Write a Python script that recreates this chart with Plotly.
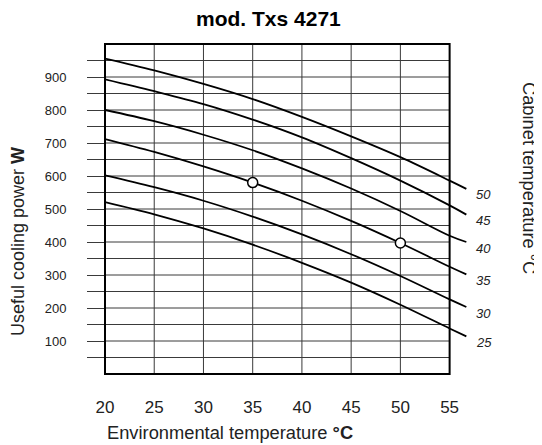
import plotly.graph_objects as go

# ---------------- data ----------------
env_temp = [20, 25, 30, 35, 40, 45, 50, 55, 56.7]
cabinet_temps = ["50", "45", "40", "35", "30", "25"]
power_c50 = [956, 920, 879, 833, 779, 720, 657, 586, 561]
power_c45 = [893, 857, 818, 771, 717, 654, 586, 511, 483]
power_c40 = [800, 766, 725, 678, 623, 562, 494, 419, 400]
power_c35 = [712, 673, 629, 580, 525, 464, 397, 325, 302]
power_c30 = [602, 566, 525, 477, 423, 363, 297, 226, 203]
power_c25 = [521, 484, 441, 392, 337, 277, 210, 138, 114]
series = [power_c50, power_c45, power_c40, power_c35, power_c30, power_c25]

rated_env = [35, 50]
rated_power = [580, 397]

x_ticks = [20, 25, 30, 35, 40, 45, 50, 55]
y_grid = list(range(50, 1000, 50))
y_labels = [str(v) if v % 100 == 0 else "" for v in y_grid]

# ---------------- layout geometry ----------------
OFF = 8                      # page body margin
W, H = 542 - OFF, 445 - OFF
L, R, T, B = 97, 53, 36, 71
X_MIN, X_MAX, X_FRAME = 20, 59, 55
Y_MIN, Y_MAX = 0, 1000
PW, PH = W - L - R, H - T - B
FONT = "Liberation Sans, Arial, sans-serif"
GRID = "#3a3a3a"


def px(xp, yp):
    """screen pixel position -> paper coordinates"""
    return (xp - OFF - L) / PW, (H - B - (yp - OFF)) / PH


fig = go.Figure()

for name, vals in zip(cabinet_temps, series):
    fig.add_trace(go.Scatter(x=env_temp, y=vals, mode="lines", name=name,
                             line=dict(color="black", width=1.8, shape="spline"),
                             showlegend=False, hoverinfo="skip"))
    fig.add_annotation(x=env_temp[-1], y=vals[-1], xref="x", yref="y", text=f"<i>{name}</i>",
                       showarrow=False, xanchor="left", yanchor="middle", xshift=8, yshift=-6,
                       font=dict(family=FONT, size=13, color="#222"))

fig.add_trace(go.Scatter(x=rated_env, y=rated_power, mode="markers", showlegend=False,
                         marker=dict(symbol="circle", size=10, color="white",
                                     line=dict(color="black", width=1.5)),
                         hoverinfo="skip"))

shapes = []
for v in y_grid:
    shapes.append(dict(type="line", xref="x", yref="y", x0=X_MIN, x1=X_FRAME, y0=v, y1=v,
                       line=dict(color=GRID, width=1), layer="below"))
for v in x_ticks[1:-1]:
    shapes.append(dict(type="line", xref="x", yref="y", x0=v, x1=v, y0=Y_MIN, y1=Y_MAX,
                       line=dict(color=GRID, width=1), layer="below"))
frame_x1 = (X_FRAME - X_MIN) / (X_MAX - X_MIN)
shapes.append(dict(type="rect", xref="paper", yref="paper", x0=0, x1=frame_x1, y0=0, y1=1,
                   line=dict(color="black", width=2), fillcolor="rgba(0,0,0,0)", layer="above"))

tx, ty = px(268, 18.5)
fig.add_annotation(x=tx, y=ty, xref="paper", yref="paper", text="<b>mod. Txs 4271</b>",
                   showarrow=False, xanchor="center", yanchor="middle",
                   font=dict(family=FONT, size=21, color="black"))
xx, xy = px(230, 432)
fig.add_annotation(x=xx, y=xy, xref="paper", yref="paper",
                   text="Environmental temperature <b>°C</b>",
                   showarrow=False, xanchor="center", yanchor="middle",
                   font=dict(family=FONT, size=18.3, color="#222"))
yx, yy = px(18, 242)
fig.add_annotation(x=yx, y=yy, xref="paper", yref="paper",
                   text="Useful cooling power <b>W</b>", textangle=-90,
                   showarrow=False, xanchor="center", yanchor="middle",
                   font=dict(family=FONT, size=18, color="#222"))
rx, ry = px(529, 178)
fig.add_annotation(x=rx, y=ry, xref="paper", yref="paper",
                   text="Cabinet temperature °C", textangle=90,
                   showarrow=False, xanchor="center", yanchor="middle",
                   font=dict(family=FONT, size=18.3, color="#222"))

fig.update_layout(
    width=W, height=H, margin=dict(l=L, r=R, t=T, b=B, pad=0),
    paper_bgcolor="white", plot_bgcolor="white", shapes=shapes,
    xaxis=dict(range=[X_MIN, X_MAX], tickvals=x_ticks, ticktext=[str(v) for v in x_ticks],
               showgrid=False, zeroline=False, showline=False,
               ticks="outside", ticklen=18, tickcolor="rgba(0,0,0,0)",
               tickfont=dict(family=FONT, size=17, color="#222")),
    yaxis=dict(range=[Y_MIN, Y_MAX], tickvals=y_grid, ticktext=y_labels,
               showgrid=False, zeroline=False, showline=False,
               ticks="outside", ticklen=17, tickcolor=GRID, tickwidth=1,
               ticklabelstandoff=18,
               tickfont=dict(family=FONT, size=13, color="#222")),
)

fig.write_html("out.html")
